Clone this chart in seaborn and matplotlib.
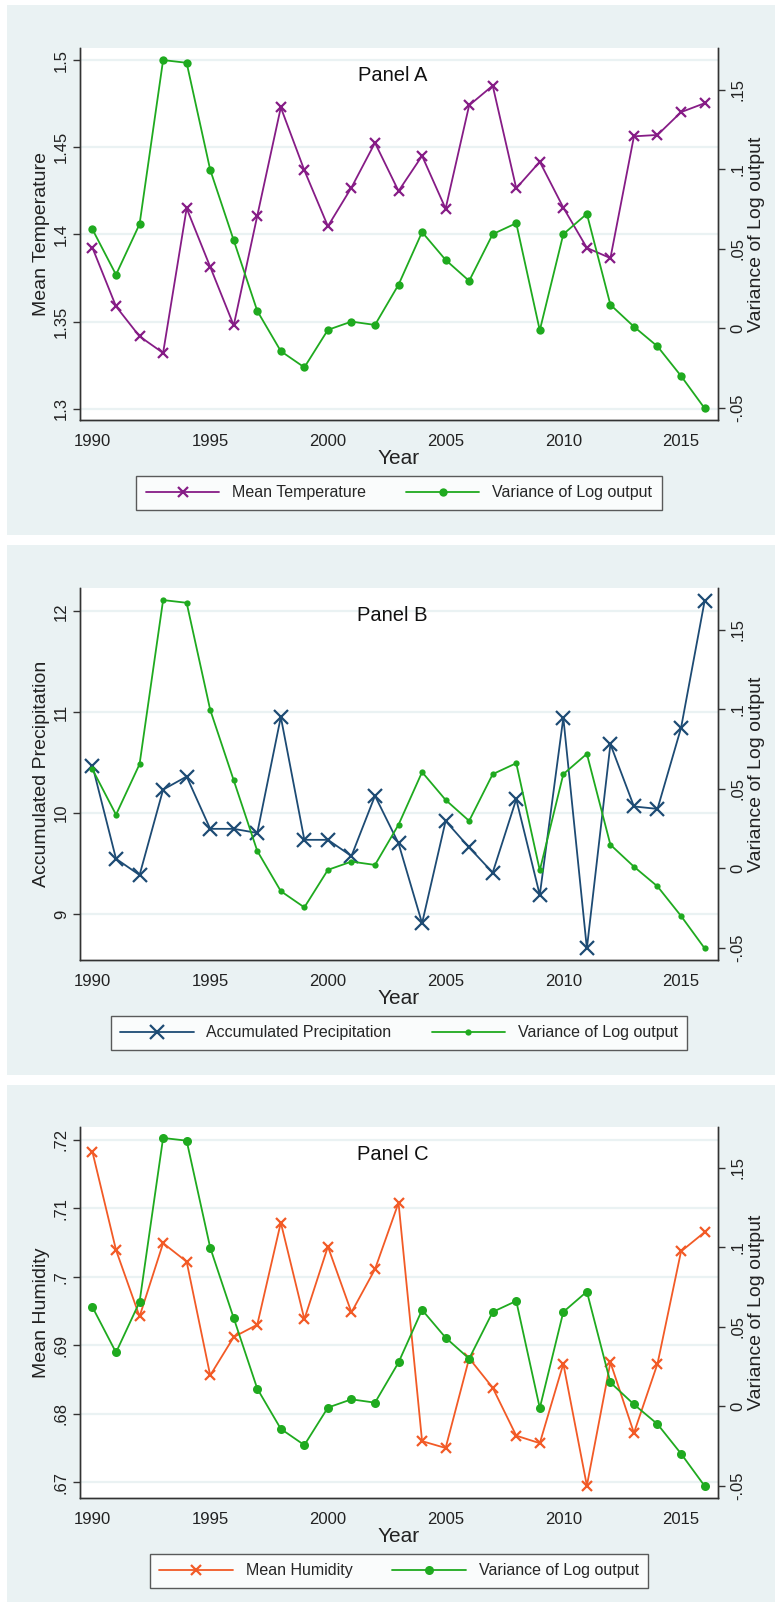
import numpy as np
import pandas as pd
import matplotlib
matplotlib.use('Agg')
import matplotlib.pyplot as plt
from matplotlib.patches import Rectangle
import seaborn as sns

# data
years = list(range(1990, 2017))
var_log_output = [0.0623, 0.0338, 0.0656, 0.1688, 0.1671, 0.0998, 0.0554, 0.0110, -0.0143, -0.0245,
                  -0.0009, 0.0043, 0.0022, 0.0275, 0.0606, 0.0431, 0.0299, 0.0593, 0.0662, -0.0012,
                  0.0593, 0.0721, 0.0149, 0.0011, -0.0113, -0.0299, -0.0502]
mean_temp = [1.3923, 1.3587, 1.3415, 1.3320, 1.4150, 1.3814, 1.3478, 1.4107, 1.4729, 1.4368,
             1.4047, 1.4269, 1.4526, 1.4249, 1.4451, 1.4148, 1.4741, 1.4854, 1.4265, 1.4417,
             1.4154, 1.3923, 1.3864, 1.4563, 1.4571, 1.4702, 1.4753]
acc_precip = [10.468, 9.546, 9.385, 10.232, 10.362, 9.843, 9.843, 9.802, 10.953, 9.734,
              9.734, 9.573, 10.171, 9.699, 8.907, 9.921, 9.658, 9.409, 10.137, 9.187,
              10.946, 8.657, 10.683, 10.065, 10.041, 10.844, 12.101]
mean_hum = [0.7182, 0.7039, 0.6942, 0.7049, 0.7022, 0.6856, 0.6912, 0.6930, 0.7079, 0.6938,
            0.7044, 0.6948, 0.7011, 0.7108, 0.6760, 0.6750, 0.6881, 0.6838, 0.6768, 0.6757,
            0.6873, 0.6695, 0.6875, 0.6772, 0.6873, 0.7037, 0.7065]

right_ticks = [-0.05, 0, 0.05, 0.1, 0.15]
right_labels = ['-.05', '0', '.05', '.1', '.15']
x_ticks = [1990, 1995, 2000, 2005, 2010, 2015]

temp_ticks = [1.3, 1.35, 1.4, 1.45, 1.5]
temp_labels = ['1.3', '1.35', '1.4', '1.45', '1.5']
precip_ticks = [9, 10, 11, 12]
precip_labels = ['9', '10', '11', '12']
hum_ticks = [0.67, 0.68, 0.69, 0.70, 0.71, 0.72]
hum_labels = ['.67', '.68', '.69', '.7', '.71', '.72']

sns.set_style('white')
plt.rcParams['font.family'] = ['Liberation Sans', 'DejaVu Sans']

BG = '#eaf2f3'
GREEN = '#1faa1f'
W, H = 782, 1607

fig = plt.figure(figsize=(W / 100, H / 100), dpi=100, facecolor='white')

df = pd.DataFrame({'Year': years, 'var': var_log_output, 'temp': mean_temp,
                   'precip': acc_precip, 'hum': mean_hum})

panels = [
    # name, column, label, color, ticks, labels, ylim, right ylim, bg top/bottom, axes top/bottom, legend y, msize x, msize dot
    ('Panel A', 'temp', 'Mean Temperature', '#861c86', temp_ticks, temp_labels,
     (1.2935, 1.507), (-0.0576, 0.1764), (5, 535), (48, 420), 493, 7, 6),
    ('Panel B', 'precip', 'Accumulated Precipitation', '#1d4b74', precip_ticks, precip_labels,
     (8.542, 12.232), (-0.0576, 0.1764), (545, 1075), (588, 960), 1033, 10, 4.5),
    ('Panel C', 'hum', 'Mean Humidity', '#f25a26', hum_ticks, hum_labels,
     (0.6677, 0.72186), (-0.0578, 0.1757), (1085, 1602), (1127, 1498), 1571, 7, 6.5),
]

for name, col, label, color, ticks, labels, ylim, ylim2, bg, box, leg_y, ms_x, ms_dot in panels:
    fig.patches.append(Rectangle((7 / W, 1 - bg[1] / H), 768 / W, (bg[1] - bg[0]) / H,
                                 transform=fig.transFigure, facecolor=BG, edgecolor='none', zorder=-10))
    ax = fig.add_axes([80 / W, 1 - box[1] / H, 638 / W, (box[1] - box[0]) / H])
    ax.set_facecolor('white')
    ax2 = ax.twinx()

    sns.lineplot(data=df, x='Year', y=col, ax=ax, color=color, marker='x', markersize=ms_x,
                 markeredgewidth=1.6, markeredgecolor=color, linewidth=1.3, label=label,
                 legend=False)
    sns.lineplot(data=df, x='Year', y='var', ax=ax2, color=GREEN, marker='o', markersize=ms_dot,
                 markeredgewidth=0, markerfacecolor=GREEN, linewidth=1.3,
                 label='Variance of Log output', legend=False)

    ax.set_xlim(1989.47, 2016.57)
    ax.set_ylim(*ylim)
    ax2.set_ylim(*ylim2)
    ax.set_xticks(x_ticks)
    ax.set_xticklabels([str(t) for t in x_ticks], fontsize=12)
    ax.set_yticks(ticks)
    ax.set_yticklabels(labels, fontsize=12, rotation=90, va='center')
    ax2.set_yticks(right_ticks)
    ax2.set_yticklabels(right_labels, fontsize=12, rotation=90, va='center')

    for t in ticks:
        ax.axhline(t, color=BG, linewidth=1.6, zorder=0)

    for a in (ax, ax2):
        a.spines['top'].set_visible(False)
        for s in ('left', 'right', 'bottom'):
            a.spines[s].set_color('#333333')
            a.spines[s].set_linewidth(1.0)
        a.tick_params(direction='out', length=5, width=1, color='#333333', labelcolor='#222222')
    ax.tick_params(axis='y', pad=3)
    ax2.tick_params(axis='y', pad=4)
    ax.tick_params(axis='x', pad=5)

    ax.set_xlabel('Year', fontsize=15, labelpad=0, color='#222222')
    ax.set_ylabel(label, fontsize=14, labelpad=3, color='#222222')
    ax2.set_ylabel('Variance of Log output', fontsize=14, labelpad=2, color='#222222')
    ax.text(0.49, 0.925, name, transform=ax.transAxes, ha='center', va='center', fontsize=14.5,
            color='#111111')

    h1, l1 = ax.get_legend_handles_labels()
    h2, l2 = ax2.get_legend_handles_labels()
    leg = fig.legend(h1 + h2, l1 + l2, loc='center', bbox_to_anchor=(399 / W, 1 - leg_y / H),
                     ncol=2, fontsize=11.5, frameon=True, fancybox=False, handlelength=4.6,
                     columnspacing=2.5, borderpad=0.6, numpoints=1)
    leg.get_frame().set_edgecolor('#333333')
    leg.get_frame().set_linewidth(1.0)
    leg.get_frame().set_facecolor('white')

fig.savefig('out.png', dpi=100, facecolor='white')
